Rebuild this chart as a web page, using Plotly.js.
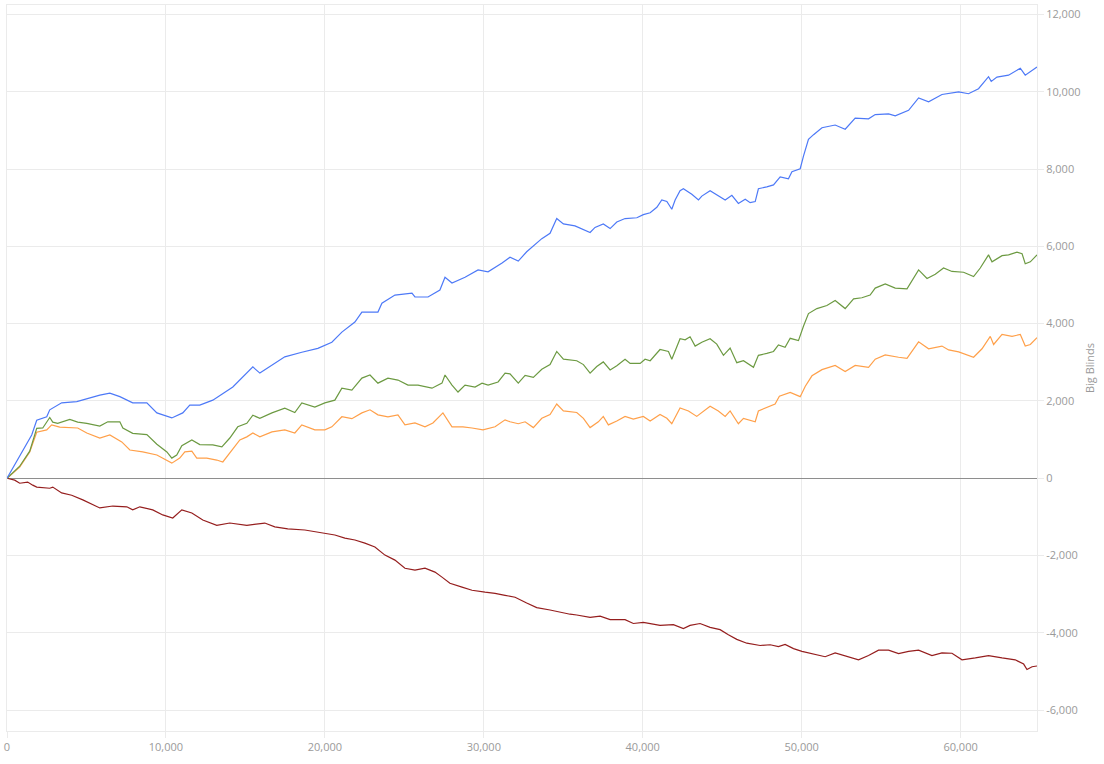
<!DOCTYPE html>
<html>
<head>
<meta charset="utf-8">
<script src="https://cdn.plot.ly/plotly-3.0.1.min.js"></script>
<style>
html,body{margin:0;padding:0;background:#fff;}
#chart{width:1104px;height:764px;}
</style>
</head>
<body>
<div id="chart"></div>
<script>
// Hands played (x) and cumulative Big Blinds (y)
const blueHands = [0,485,988,1555,1870,2500,2690,3440,4390,5840,6470,7100,7910,8800,9430,10370,11060,11500,12130,12950,14210,15470,15910,16670,17480,18550,19560,20440,21070,21890,22330,23340,23590,24410,25480,25670,26490,27240,27560,28000,28820,29640,30270,31150,31650,32170,32700,33650,34170,34590,35010,35740,36690,37000,37520,37950,38370,38890,39630,40040,40470,40890,41200,41520,41830,42040,42350,42560,43090,43510,43720,44240,44760,45190,45610,46020,46450,46760,47080,47280,47810,48230,48650,49170,49390,49910,50120,50430,50750,51280,52110,52740,53370,54210,54630,55470,55890,56730,57360,57990,58830,59880,60500,61130,61760,61930,62290,63020,63760,64070,64810];
const blueBB = [0,340,730,1120,1500,1590,1770,1950,1980,2150,2200,2110,1950,1950,1690,1560,1690,1890,1890,2020,2360,2880,2720,2930,3140,3260,3360,3520,3780,4040,4300,4300,4530,4740,4790,4690,4690,4870,5200,5050,5200,5390,5340,5570,5720,5620,5860,6200,6340,6720,6580,6530,6360,6490,6580,6460,6630,6720,6740,6820,6870,7010,7200,7160,6960,7200,7440,7490,7350,7200,7300,7440,7320,7200,7320,7110,7220,7130,7160,7490,7540,7590,7800,7750,7930,8010,8340,8770,8890,9070,9140,9030,9320,9300,9410,9430,9380,9520,9840,9740,9930,10000,9950,10080,10390,10270,10380,10430,10610,10430,10640];

const greenHands = [0,800,1430,1870,2250,2690,2880,3190,3950,4450,5020,5840,6340,7100,7290,7910,8800,9430,10060,10370,10680,11000,11630,12130,12950,13520,14020,14520,15090,15470,15910,16670,17480,18110,18550,19370,20000,20630,21070,21700,22330,22840,23340,23970,24600,25230,25860,26740,27370,27560,28000,28380,28820,29450,29890,30270,30900,31340,31650,32170,32600,33120,33650,34170,34590,35010,35850,36270,36690,37110,37520,37950,38370,38890,39210,39840,40150,40470,41090,41620,41830,42040,42350,42670,42980,43300,43720,44240,44660,45080,45500,45920,46340,46970,47280,47810,48230,48540,48960,49280,49800,50120,50430,50960,51590,52110,52740,53270,53790,54310,54630,55260,55890,56630,56940,57360,57890,58410,58930,59460,60190,60820,61240,61760,61980,62610,63020,63550,63870,64070,64390,64810];
const greenBB = [0,310,700,1290,1300,1570,1450,1420,1520,1450,1420,1350,1460,1460,1300,1160,1130,880,680,520,600,840,990,870,860,810,1040,1330,1420,1630,1550,1690,1810,1700,1950,1840,1950,2020,2330,2280,2590,2670,2460,2590,2540,2410,2410,2330,2460,2670,2410,2230,2410,2360,2460,2410,2490,2720,2700,2460,2660,2610,2820,2940,3280,3080,3040,2940,2720,2890,3010,2800,2910,3080,2970,2970,3080,3040,3330,3280,3080,3280,3610,3580,3660,3420,3520,3610,3470,3180,3370,2990,3040,2870,3180,3230,3280,3450,3390,3620,3560,3940,4260,4390,4470,4600,4390,4640,4670,4740,4920,5030,4920,4900,5120,5390,5170,5280,5440,5350,5330,5220,5440,5780,5600,5760,5780,5850,5810,5550,5600,5780];

const orangeHands = [0,800,1430,1870,2500,2810,3320,3950,4450,5020,5840,6470,7220,7730,8540,9430,10060,10370,10870,11190,11630,11940,12570,13200,13580,14020,14650,15090,15470,15910,16670,17480,18110,18550,19370,20000,20440,21070,21700,22330,22840,23340,23970,24600,25040,25670,26300,26800,27430,28000,28690,29260,29950,30710,31340,31650,32170,32600,33120,33650,34170,34590,35010,35850,36270,36690,37210,37520,37840,38370,38890,39410,40040,40470,41090,41520,41830,42350,42880,43400,44240,44760,45190,45500,46020,46340,47080,47280,47910,48330,48600,49280,49910,50230,50650,51280,52110,52740,53370,54210,54630,55260,56100,56630,57360,57990,58830,59250,59880,60820,61350,61870,62080,62610,63240,63760,64070,64390,64810];
const orangeBB = [0,290,680,1190,1250,1380,1320,1300,1300,1170,1040,1120,940,730,680,600,470,390,520,680,700,520,520,470,420,650,990,1070,1170,1070,1200,1250,1170,1380,1250,1250,1330,1590,1540,1690,1770,1640,1590,1640,1380,1430,1330,1430,1690,1330,1330,1300,1250,1330,1510,1460,1410,1460,1310,1550,1650,1920,1740,1700,1550,1310,1460,1600,1380,1480,1600,1530,1600,1480,1650,1550,1410,1820,1740,1600,1860,1740,1600,1740,1410,1550,1460,1740,1840,1920,2120,2220,2110,2380,2650,2810,2920,2760,2920,2870,3080,3190,3130,3100,3530,3350,3420,3320,3270,3130,3350,3670,3460,3720,3670,3720,3420,3460,3640];

const redHands = [0,485,800,1300,1620,1870,2690,2880,3440,4070,4770,5840,6660,7540,7910,8360,9170,9800,10430,11000,11630,12320,13200,14020,15090,15910,16220,16850,17670,18740,19810,20630,21260,21890,22520,23150,23780,24410,25040,25670,26300,26930,27370,27870,28630,29260,30080,30710,31340,31970,32700,33330,34170,34800,35430,35850,36690,37320,37950,38890,39410,40040,41090,41930,42560,42980,43610,44240,44870,45390,45920,46550,47390,48020,48540,48960,49490,50020,50650,51480,52110,52950,53580,54210,54840,55470,56100,56730,57360,58200,58830,59460,60090,60930,61760,62610,63440,63970,64180,64500,64810];
const redBB = [0,-50,-130,-100,-180,-230,-260,-230,-380,-440,-560,-770,-720,-740,-820,-740,-820,-950,-1030,-820,-900,-1080,-1220,-1160,-1220,-1180,-1160,-1260,-1310,-1340,-1420,-1470,-1550,-1600,-1680,-1780,-1990,-2120,-2330,-2380,-2330,-2430,-2560,-2720,-2820,-2900,-2950,-2980,-3030,-3080,-3230,-3350,-3410,-3470,-3520,-3540,-3600,-3570,-3660,-3660,-3760,-3730,-3810,-3790,-3890,-3810,-3760,-3860,-3920,-4050,-4170,-4270,-4330,-4310,-4360,-4300,-4410,-4480,-4540,-4620,-4520,-4620,-4700,-4590,-4450,-4450,-4540,-4480,-4450,-4590,-4520,-4530,-4700,-4650,-4590,-4650,-4700,-4810,-4950,-4880,-4860];

const xTickVals = [0,10000,20000,30000,40000,50000,60000];
const xTickText = ['0','10,000','20,000','30,000','40,000','50,000','60,000'];
const yTickVals = [-6000,-4000,-2000,0,2000,4000,6000,8000,10000,12000];
const yTickText = ['-6,000','-4,000','-2,000','0','2,000','4,000','6,000','8,000','10,000','12,000'];
const yTitle = 'Big Blinds';

function line(x, y, color, name) {
  return {x: x, y: y, type: 'scatter', mode: 'lines', name: name,
          line: {color: color, width: 1.2}, hoverinfo: 'skip'};
}

const traces = [
  line(redHands, redBB, '#951e1e', 'red'),
  line(orangeHands, orangeBB, '#ffa04a', 'orange'),
  line(greenHands, greenBB, '#6c9a42', 'green'),
  line(blueHands, blueBB, '#4d79f7', 'blue')
];

const gridC = '#ebebeb';
const layout = {
  width: 1104, height: 764,
  margin: {l: 7, r: 67, t: 5, b: 33, pad: 0},
  paper_bgcolor: '#ffffff', plot_bgcolor: '#ffffff',
  showlegend: false,
  font: {family: '"Open Sans", "Noto Sans", sans-serif', size: 11, color: '#9a9a9a'},
  xaxis: {
    range: [0, 64810], tickvals: xTickVals, ticktext: xTickText,
    showgrid: true, gridcolor: gridC, gridwidth: 1,
    showline: true, linecolor: gridC, linewidth: 1, mirror: true,
    ticks: 'outside', ticklen: 6, tickcolor: gridC,
    zeroline: false, tickfont: {size: 11, color: '#9a9a9a'}
  },
  yaxis: {
    side: 'right', range: [-6542, 12246], tickvals: yTickVals, ticktext: yTickText,
    showgrid: true, gridcolor: gridC, gridwidth: 1,
    showline: true, linecolor: gridC, linewidth: 1, mirror: true,
    ticks: 'outside', ticklen: 6, tickcolor: gridC,
    zeroline: true, zerolinecolor: '#8e8e8e', zerolinewidth: 1,
    tickfont: {size: 11, color: '#9a9a9a'},
    title: {text: yTitle, font: {size: 11, color: '#9a9a9a'}, standoff: 6}
  }
};

Plotly.newPlot('chart', traces, layout, {displayModeBar: false, staticPlot: true});
</script>
</body>
</html>
